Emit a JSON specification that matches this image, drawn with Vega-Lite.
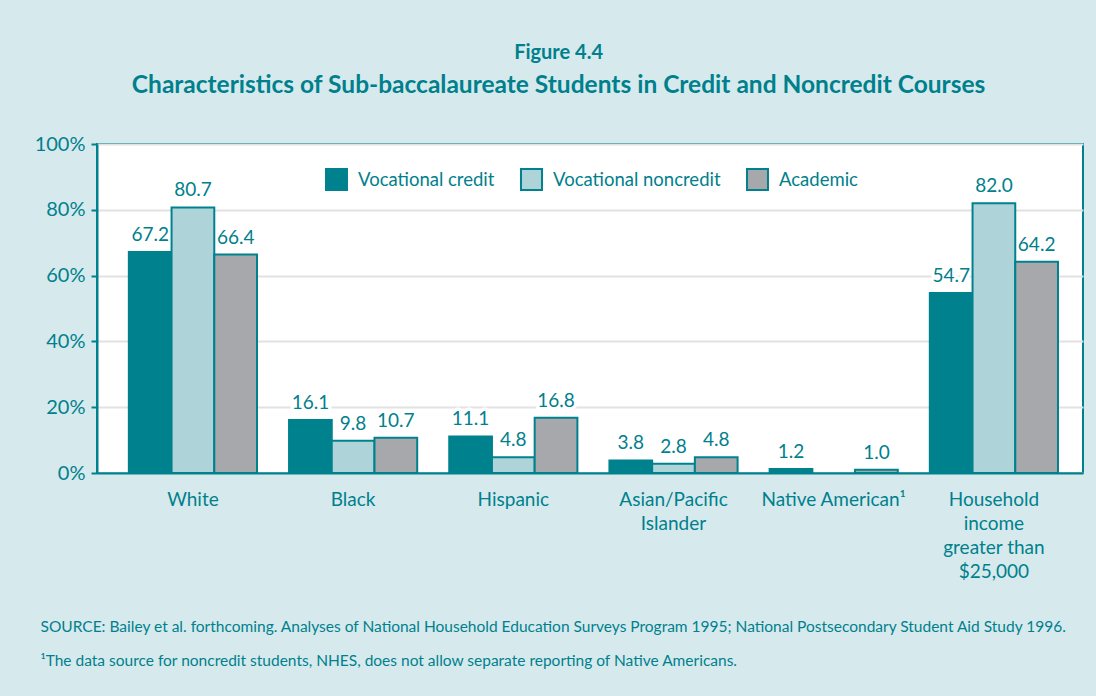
{
  "$schema": "https://vega.github.io/schema/vega-lite/v6.json",
  "autosize": {"type": "none"},
  "width": 986,
  "height": 329,
  "padding": {"left": 97, "top": 144, "right": 13, "bottom": 223},
  "background": "#d6eaee",
  "title": {
    "text": "Figure 4.4",
    "subtitle": "Characteristics of Sub-baccalaureate Students in Credit and Noncredit Courses",
    "anchor": "middle",
    "frame": "bounds",
    "font": "Lato",
    "fontSize": 20,
    "fontWeight": "bold",
    "color": "#00808c",
    "subtitleFont": "Lato",
    "subtitleFontSize": 24.5,
    "subtitleFontWeight": "bold",
    "subtitleColor": "#00808c",
    "subtitlePadding": 11,
    "offset": 37
  },
  "data": {
    "values": [
      {"group": "White", "series": "Vocational credit", "value": 67.2},
      {"group": "White", "series": "Vocational noncredit", "value": 80.7},
      {"group": "White", "series": "Academic", "value": 66.4},
      {"group": "Black", "series": "Vocational credit", "value": 16.1},
      {"group": "Black", "series": "Vocational noncredit", "value": 9.8},
      {"group": "Black", "series": "Academic", "value": 10.7},
      {"group": "Hispanic", "series": "Vocational credit", "value": 11.1},
      {"group": "Hispanic", "series": "Vocational noncredit", "value": 4.8},
      {"group": "Hispanic", "series": "Academic", "value": 16.8},
      {"group": "Asian/Pacific|Islander", "series": "Vocational credit", "value": 3.8},
      {"group": "Asian/Pacific|Islander", "series": "Vocational noncredit", "value": 2.8},
      {"group": "Asian/Pacific|Islander", "series": "Academic", "value": 4.8},
      {"group": "Native American¹", "series": "Vocational credit", "value": 1.2},
      {"group": "Native American¹", "series": "Academic", "value": 1.0},
      {"group": "Household|income|greater than|$25,000", "series": "Vocational credit", "value": 54.7},
      {"group": "Household|income|greater than|$25,000", "series": "Vocational noncredit", "value": 82.0},
      {"group": "Household|income|greater than|$25,000", "series": "Academic", "value": 64.2}
    ]
  },
  "encoding": {
    "x": {
      "field": "group",
      "type": "nominal",
      "sort": null,
      "scale": {"paddingInner": 0.2, "paddingOuter": 0.1775, "align": 0.56},
      "axis": {
        "labelAngle": 0,
        "labelExpr": "split(datum.label, '|')",
        "labelFont": "Lato",
        "labelFontSize": 19,
        "labelColor": "#00808c",
        "labelPadding": 17,
        "labelLineHeight": 24,
        "labelBaseline": "top",
        "labelLimit": 0,
        "ticks": false,
        "domainColor": "#00828e",
        "domainWidth": 2,
        "title": [
          "SOURCE: Bailey et al. forthcoming. Analyses of National Household Education Surveys Program 1995; National Postsecondary Student Aid Study 1996.",
          "¹The data source for noncredit students, NHES, does not allow separate reporting of Native Americans."
        ],
        "titleFont": "Lato",
        "titleFontSize": 15.5,
        "titleFontWeight": "normal",
        "titleColor": "#00808c",
        "titleAnchor": "start",
        "titleAlign": "left",
        "titleBaseline": "top",
        "titleX": -57,
        "titleY": 146,
        "titleLineHeight": 34,
        "titleLimit": 0
      }
    },
    "xOffset": {
      "field": "series",
      "type": "nominal",
      "sort": ["Vocational credit", "Vocational noncredit", "Academic"],
      "scale": {"domain": ["Vocational credit", "Vocational noncredit", "Academic"], "paddingInner": 0, "paddingOuter": 0}
    },
    "y": {
      "field": "value",
      "type": "quantitative",
      "scale": {"domain": [0, 100], "nice": false},
      "axis": {
        "values": [0, 20, 40, 60, 80, 100],
        "labelExpr": "datum.value + '%'",
        "labelFont": "Lato",
        "labelFontSize": 20,
        "labelColor": "#00808c",
        "labelPadding": 6,
        "tickColor": "#00828e",
        "tickWidth": 2,
        "tickSize": 6,
        "domainColor": "#00828e",
        "domainWidth": 2,
        "gridColor": "#e2e2e2",
        "gridWidth": 2,
        "title": null
      }
    }
  },
  "layer": [
    {
      "mark": {
        "type": "text",
        "baseline": "bottom",
        "dy": -7,
        "font": "Lato",
        "fontSize": 19,
        "color": "white",
        "stroke": "white",
        "strokeWidth": 7,
        "strokeJoin": "round"
      },
      "encoding": {
        "text": {"field": "value", "type": "quantitative", "format": ".1f"}
      }
    },
    {
      "mark": {"type": "bar", "stroke": "#00828e", "strokeWidth": 2},
      "encoding": {
        "color": {
          "field": "series",
          "type": "nominal",
          "sort": ["Vocational credit", "Vocational noncredit", "Academic"],
          "scale": {
            "domain": ["Vocational credit", "Vocational noncredit", "Academic"],
            "range": ["#00828e", "#aed4da", "#a7a8ab"]
          },
          "legend": {
            "title": null,
            "orient": "none",
            "direction": "horizontal",
            "legendX": 228,
            "legendY": 24,
            "padding": 0,
            "symbolType": "square",
            "symbolSize": 440,
            "symbolStrokeColor": "#00828e",
            "symbolStrokeWidth": 2,
            "symbolOpacity": 1,
            "labelFont": "Lato",
            "labelFontSize": 18.5,
            "labelColor": "#00808c",
            "labelOffset": 10,
            "labelLimit": 0,
            "columnPadding": 22
          }
        }
      }
    },
    {
      "mark": {
        "type": "text",
        "baseline": "bottom",
        "dy": -7,
        "font": "Lato",
        "fontSize": 19,
        "color": "#00808c"
      },
      "encoding": {
        "text": {"field": "value", "type": "quantitative", "format": ".1f"}
      }
    }
  ],
  "config": {
    "view": {"fill": "white", "stroke": "#00828e", "strokeWidth": 2}
  }
}
